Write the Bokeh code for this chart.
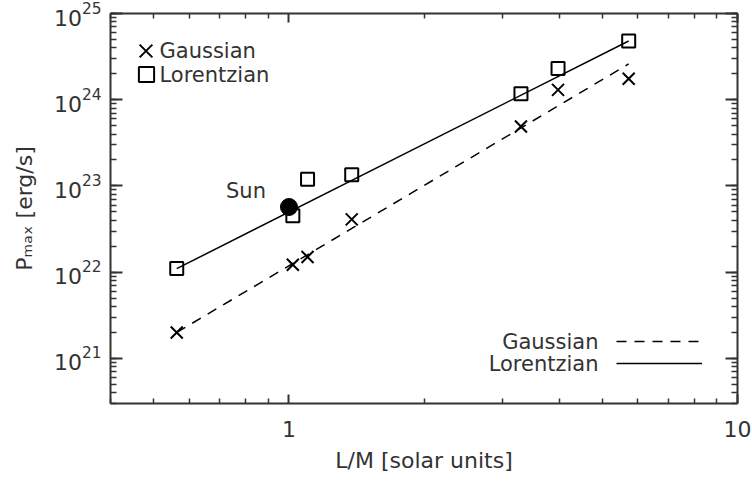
from bokeh.plotting import figure
from bokeh.models import (LogAxis, LogTicker, FixedTicker, LogTickFormatter, Label, Legend,
                          LegendItem, Range1d, ColumnDataSource)
from bokeh.embed import file_html
from bokeh.resources import INLINE

# ---- data ----
lm = [0.562, 1.02, 1.1, 1.38, 3.29, 3.98, 5.72]
gauss = [2.0e21, 1.22e22, 1.5e22, 4.1e22, 4.9e23, 1.3e24, 1.75e24]
lorentz = [1.1e22, 4.5e22, 1.2e23, 1.35e23, 1.17e24, 2.3e24, 4.8e24]
sun_x = [1.0]
sun_y = [5.7e22]
fit_x = [0.562, 5.72]
gauss_fit = [2.0e21, 2.6e24]
lorentz_fit = [1.1e22, 4.8e24]
x_major = [1, 10]
x_minor = [0.4, 0.5, 0.6, 0.7, 0.8, 0.9, 2, 3, 4, 5, 6, 7, 8, 9]
series_names = ["Gaussian", "Lorentzian"]

FONT = "DejaVu Sans"
TXT = "#333333"
AX = "#333333"

p = figure(width=752, height=481, x_axis_type="log", y_axis_type="log",
           x_range=Range1d(0.4, 10), y_range=Range1d(3.0e20, 1.0e25),
           output_backend="svg", toolbar_location=None,
           min_border_left=110, min_border_right=15, min_border_top=13, min_border_bottom=78)
p.xgrid.visible = False
p.ygrid.visible = False
p.outline_line_color = None
p.background_fill_color = "white"

def style_axis(ax, major_len, minor_len, labels=True):
    ax.axis_line_color = AX
    ax.axis_line_width = 2
    ax.major_tick_line_color = AX
    ax.major_tick_line_width = 2
    ax.minor_tick_line_color = AX
    ax.minor_tick_line_width = 1.5
    ax.major_tick_in = major_len
    ax.major_tick_out = 0
    ax.minor_tick_in = minor_len
    ax.minor_tick_out = 0
    if labels:
        ax.major_label_text_font = FONT
        ax.major_label_text_font_size = "22px"
        ax.major_label_text_color = TXT
        ax.axis_label_text_font = FONT
        ax.axis_label_text_font_size = "22px"
        ax.axis_label_text_font_style = "normal"
        ax.axis_label_text_color = TXT
    else:
        ax.major_label_text_font_size = "1px"
        ax.major_label_text_alpha = 0
        ax.major_label_standoff = 0

xa = p.xaxis[0]
ya = p.yaxis[0]
xa.ticker = FixedTicker(ticks=x_major, minor_ticks=x_minor)
ya.ticker = LogTicker(num_minor_ticks=10)
xa.formatter = LogTickFormatter(min_exponent=2)
style_axis(xa, 9, 5)
style_axis(ya, 12, 6)
xa.major_label_standoff = 17
ya.major_label_standoff = 9
xa.axis_label = "L/M [solar units]"
xa.axis_label_standoff = 8
ya.axis_label = "P\u2098\u2090\u2093 [erg/s]"
ya.axis_label_standoff = 14

top = LogAxis(ticker=FixedTicker(ticks=x_major, minor_ticks=x_minor))
style_axis(top, 9, 5, labels=False)
right = LogAxis(ticker=LogTicker(num_minor_ticks=10))
style_axis(right, 12, 6, labels=False)
p.add_layout(top, "above")
p.add_layout(right, "right")

# fit lines
g_line = p.line(fit_x, gauss_fit, line_color="black", line_width=1.5, line_dash="10 8")
l_line = p.line(fit_x, lorentz_fit, line_color="black", line_width=1.5)

# data points
src = ColumnDataSource(dict(x=lm, g=gauss, l=lorentz))
g_pts = p.scatter("x", "g", source=src, marker="x", size=17, line_color="black", line_width=2)
l_pts = p.scatter("x", "l", source=src, marker="square", size=13, line_color="black",
                  line_width=2, fill_color=None)
p.scatter(sun_x, sun_y, marker="circle", size=17, fill_color="black", line_color="black")

p.add_layout(Label(x=sun_x[0], y=sun_y[0], text="Sun", x_offset=-23, y_offset=16,
                   text_align="right", text_baseline="middle", text_font=FONT,
                   text_font_size="21px", text_color=TXT))

# top-left legend (symbols); one legend per entry so the symbols stay large,
# with the names drawn as labels right next to the symbols
def sym_legend(rend, vx, vy, g):
    return Legend(items=[LegendItem(label=".", renderers=[rend])],
                  location=(vx, vy), orientation="vertical",
                  background_fill_alpha=0, border_line_color=None,
                  padding=0, margin=0, spacing=0, glyph_width=g, glyph_height=g,
                  label_height=g, label_standoff=0, label_width=1,
                  label_text_font_size="2px", label_text_alpha=0)
p.add_layout(sym_legend(g_pts, 13, 330, 45))
p.add_layout(sym_legend(l_pts, 17, 310, 38))
for txt, yy in zip(series_names, (353, 329)):
    p.add_layout(Label(x=49, y=yy, x_units="screen", y_units="screen", text=txt,
                       text_align="left", text_baseline="middle", text_font=FONT,
                       text_font_size="21px", text_color=TXT))

# bottom-right legend (lines), text on the left of the line
leg2 = Legend(items=[LegendItem(label=".", renderers=[g_line]),
                     LegendItem(label=".", renderers=[l_line])],
              location=(506, 29), orientation="vertical",
              background_fill_alpha=0, border_line_color=None,
              padding=0, margin=0, spacing=0, glyph_width=86, glyph_height=22,
              label_height=22, label_standoff=0, label_width=1,
              label_text_font_size="2px", label_text_alpha=0)
p.add_layout(leg2)
for txt, yy in zip(series_names, (62, 40)):
    p.add_layout(Label(x=488, y=yy, x_units="screen", y_units="screen", text=txt,
                       text_align="right", text_baseline="middle", text_font=FONT,
                       text_font_size="21px", text_color=TXT))

open("out.html", "w").write(file_html(p, INLINE))
